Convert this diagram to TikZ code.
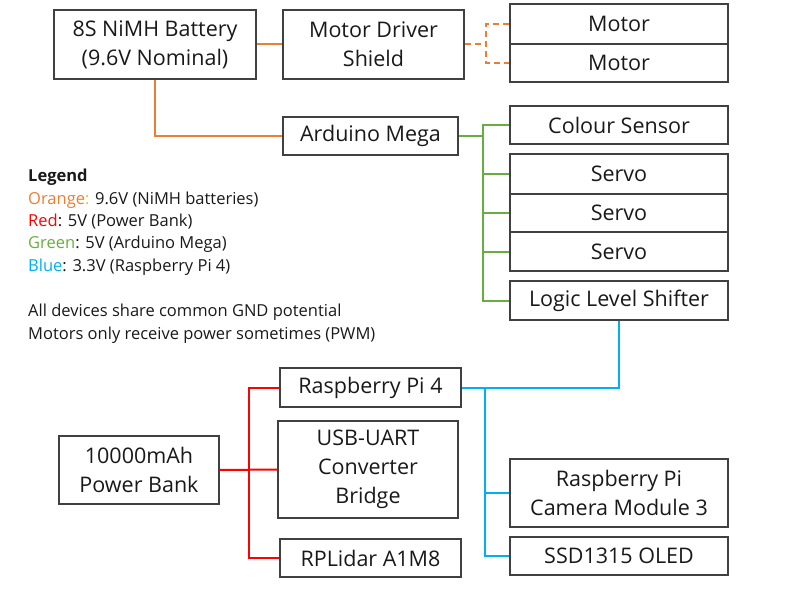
\documentclass[tikz,border=0pt]{standalone}
\usepackage{fontspec}
\setmainfont{Open Sans}
\definecolor{pwrorange}{RGB}{237,125,49}
\definecolor{pwrred}{RGB}{255,0,0}
\definecolor{pwrgreen}{RGB}{104,173,64}
\definecolor{pwrblue}{RGB}{0,176,240}
\definecolor{pwrgold}{RGB}{255,192,0}
\begin{document}
\begin{tikzpicture}[x=1pt, y=-1pt,
	box/.style={draw=black!75, line width=1.1pt, inner sep=0pt, align=center,
		text=black!90, font=\fontsize{21.5}{29}\selectfont},
	wire/.style={line width=2pt},
	legendtext/.style={anchor=north west, inner sep=0pt, align=left,
		text=black!90, font=\fontsize{16.5}{22.4}\selectfont}]
	\useasboundingbox (0,0) rectangle (796,594);

	% power sources and drivers
	\node [box, minimum width=202, minimum height=69] (battery) at (155,44.5) {8S NiMH Battery\\(9.6V Nominal)};
	\node [box, minimum width=181, minimum height=69] (driver) at (373.5,44.5) {Motor Driver\\Shield};
	\node [box, minimum width=218, minimum height=40] (motorA) at (619,24) {Motor};
	\node [box, minimum width=218, minimum height=38] (motorB) at (619,63) {Motor};
	\node [box, minimum width=175, minimum height=38] (mega) at (370.5,136) {Arduino Mega};

	% arduino peripherals
	\node [box, minimum width=218, minimum height=38] (colour) at (619,125) {Colour Sensor};
	\node [box, minimum width=218, minimum height=40] (servoA) at (619,174) {Servo};
	\node [box, minimum width=218, minimum height=38] (servoB) at (619,213) {Servo};
	\node [box, minimum width=218, minimum height=39] (servoC) at (619,251.5) {Servo};
	\node [box, minimum width=218, minimum height=39] (shifter) at (619,300.5) {Logic Level Shifter};

	% power bank side
	\node [box, minimum width=160, minimum height=68] (bank) at (139,470) {10000mAh\\Power Bank};
	\node [box, minimum width=181, minimum height=39] (rpi) at (370.5,387.5) {Raspberry Pi 4};
	\node [box, minimum width=180, minimum height=97] (uart) at (368,469.5) {USB-UART\\Converter\\Bridge};
	\node [box, minimum width=181, minimum height=38] (lidar) at (370.5,558) {RPLidar A1M8};
	\node [box, minimum width=218, minimum height=68] (camera) at (619,493) {Raspberry Pi\\Camera Module 3};
	\node [box, minimum width=218, minimum height=38] (oled) at (619,556) {SSD1315 OLED};

	% legend
	\node [legendtext] (legend) at (28,169) {\textbf{Legend}\\
		\textcolor{pwrorange}{Orange}\textcolor{pwrgold}{:} 9.6V (NiMH batteries)\\
		\textcolor{pwrred}{Red}: 5V (Power Bank)\\
		\textcolor{pwrgreen}{Green}: 5V (Arduino Mega)\\
		\textcolor{pwrblue}{Blue}: 3.3V (Raspberry Pi 4)};
	\node [legendtext] (notes) at (28,304) {All devices share common GND potential\\
		Motors only receive power sometimes (PWM)};

	% bus points
	\coordinate (mjoin) at (486,44.5);
	\coordinate (gbus) at (483,136);
	\coordinate (bbus) at (485,387.5);
	\coordinate (rbus) at (249,469.5);

	% orange: battery
	\draw [wire, pwrorange] (battery.east) -- (driver.west);
	\draw [wire, pwrorange] (battery.south) |- (mega.west);
	\draw [wire, pwrorange, dashed, dash pattern=on 6pt off 4pt] (driver.east) -- (mjoin);
	\draw [wire, pwrorange, dashed, dash pattern=on 6pt off 4pt] (motorA.west) -| (mjoin) |- (motorB.west);

	% green: arduino
	\draw [wire, pwrgreen] (mega.east) -- (gbus);
	\draw [wire, pwrgreen] (colour.west) -| (gbus) |- (shifter.west);
	\foreach \s in {servoA, servoB, servoC}
		\draw [wire, pwrgreen] (\s.west) -- (\s.west -| gbus);

	% blue: raspberry pi
	\draw [wire, pwrblue] (shifter.south) |- (rpi.east);
	\draw [wire, pwrblue] (bbus) |- (oled.west);
	\draw [wire, pwrblue] (camera.west) -- (camera.west -| bbus);

	% red: power bank
	\draw [wire, pwrred] (bank.east) -- (uart.west);
	\draw [wire, pwrred] (rpi.west) -| (rbus) |- (lidar.west);
\end{tikzpicture}
\end{document}
